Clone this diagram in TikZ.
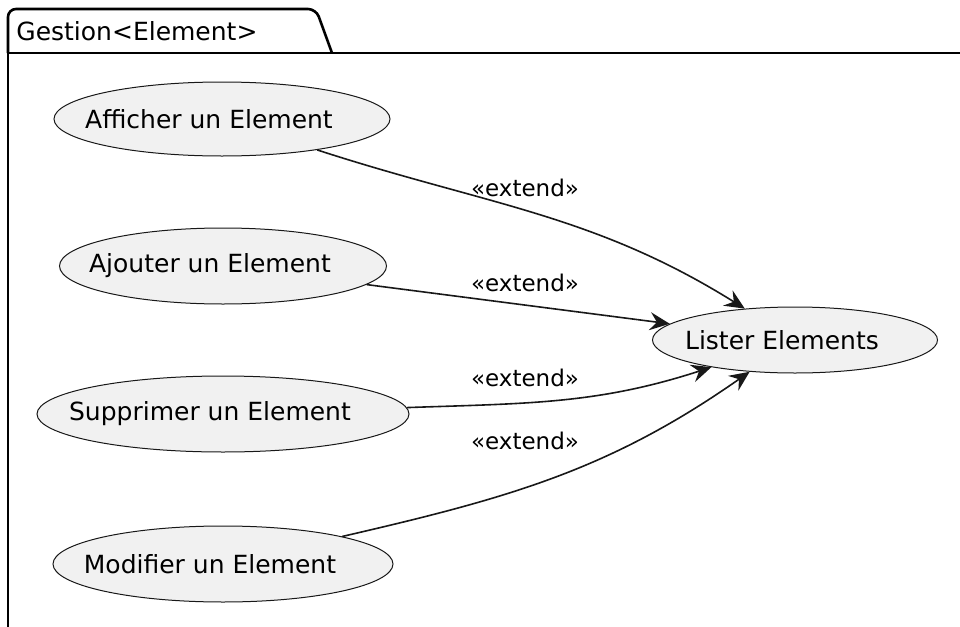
\documentclass[tikz,border=0pt]{standalone}
\usepackage{fontspec}
\setmainfont{DejaVu Sans}
\usepackage{xcolor}
\usetikzlibrary{positioning, shapes.geometric, arrows.meta}
\definecolor{ucfill}{HTML}{F1F1F1}
\definecolor{ucline}{HTML}{181818}

\begin{document}
\begin{tikzpicture}[x=0.5pt, y=-0.5pt,
    usecase/.style={ellipse, draw=ucline, fill=ucfill, line width=0.5pt,
                    inner xsep=-14pt, inner ysep=0pt, minimum height=38pt,
                    font=\fontsize{12.5}{15}\selectfont,
                    execute at end node={\hspace*{13pt}}},
    arw/.style={-{Stealth[length=10pt, width=9pt, inset=3.5pt]},
                line width=0.8pt, draw=ucline},
    annot/.style={font=\fontsize{11.5}{14}\selectfont, inner sep=0pt},
    pkg/.style={line width=1.3pt, draw=black},
]
\useasboundingbox (0,0) rectangle (960,627);

% --- Package frame ---
\draw[pkg, rounded corners=4pt] (8,53) -- (8,9) -- (316,9) -- (332,53);
\draw[pkg] (8,53) -- (8,640);
\draw[pkg] (8,53) -- (970,53);
\node[anchor=west, inner sep=0pt, font=\fontsize{12.5}{15}\selectfont]
    (pkgtitle) at (16,31) {Gestion<Element>};

% --- Use cases ---
\node[usecase, minimum width=168pt, minimum height=37pt] (aff) at (222,119)
    {Afficher un Element};
\node[usecase, minimum width=163.5pt] (aju) at (223,266)
    {Ajouter un Element};
\node[usecase, minimum width=186pt] (sup) at (223,414)
    {Supprimer un Element};
\node[usecase, minimum width=170pt] (mod) at (223,564)
    {Modifier un Element};
\node[usecase, minimum width=142.5pt, minimum height=33pt] (lst) at (795,340)
    {Lister Elements};

% --- Extend arrows ---
\draw[arw] (aff) to[out=-18, in=148] (lst);
\draw[arw] (aju) -- (lst);
\draw[arw] (sup) to[out=2, in=198] (lst);
\draw[arw] (mod) to[out=13, in=215] (lst);

% --- Labels ---
\node[annot] (ext1) at (525,188) {«extend»};
\node[annot] (ext2) at (525,283) {«extend»};
\node[annot] (ext3) at (525,378) {«extend»};
\node[annot] (ext4) at (525,441) {«extend»};
\end{tikzpicture}
\end{document}
